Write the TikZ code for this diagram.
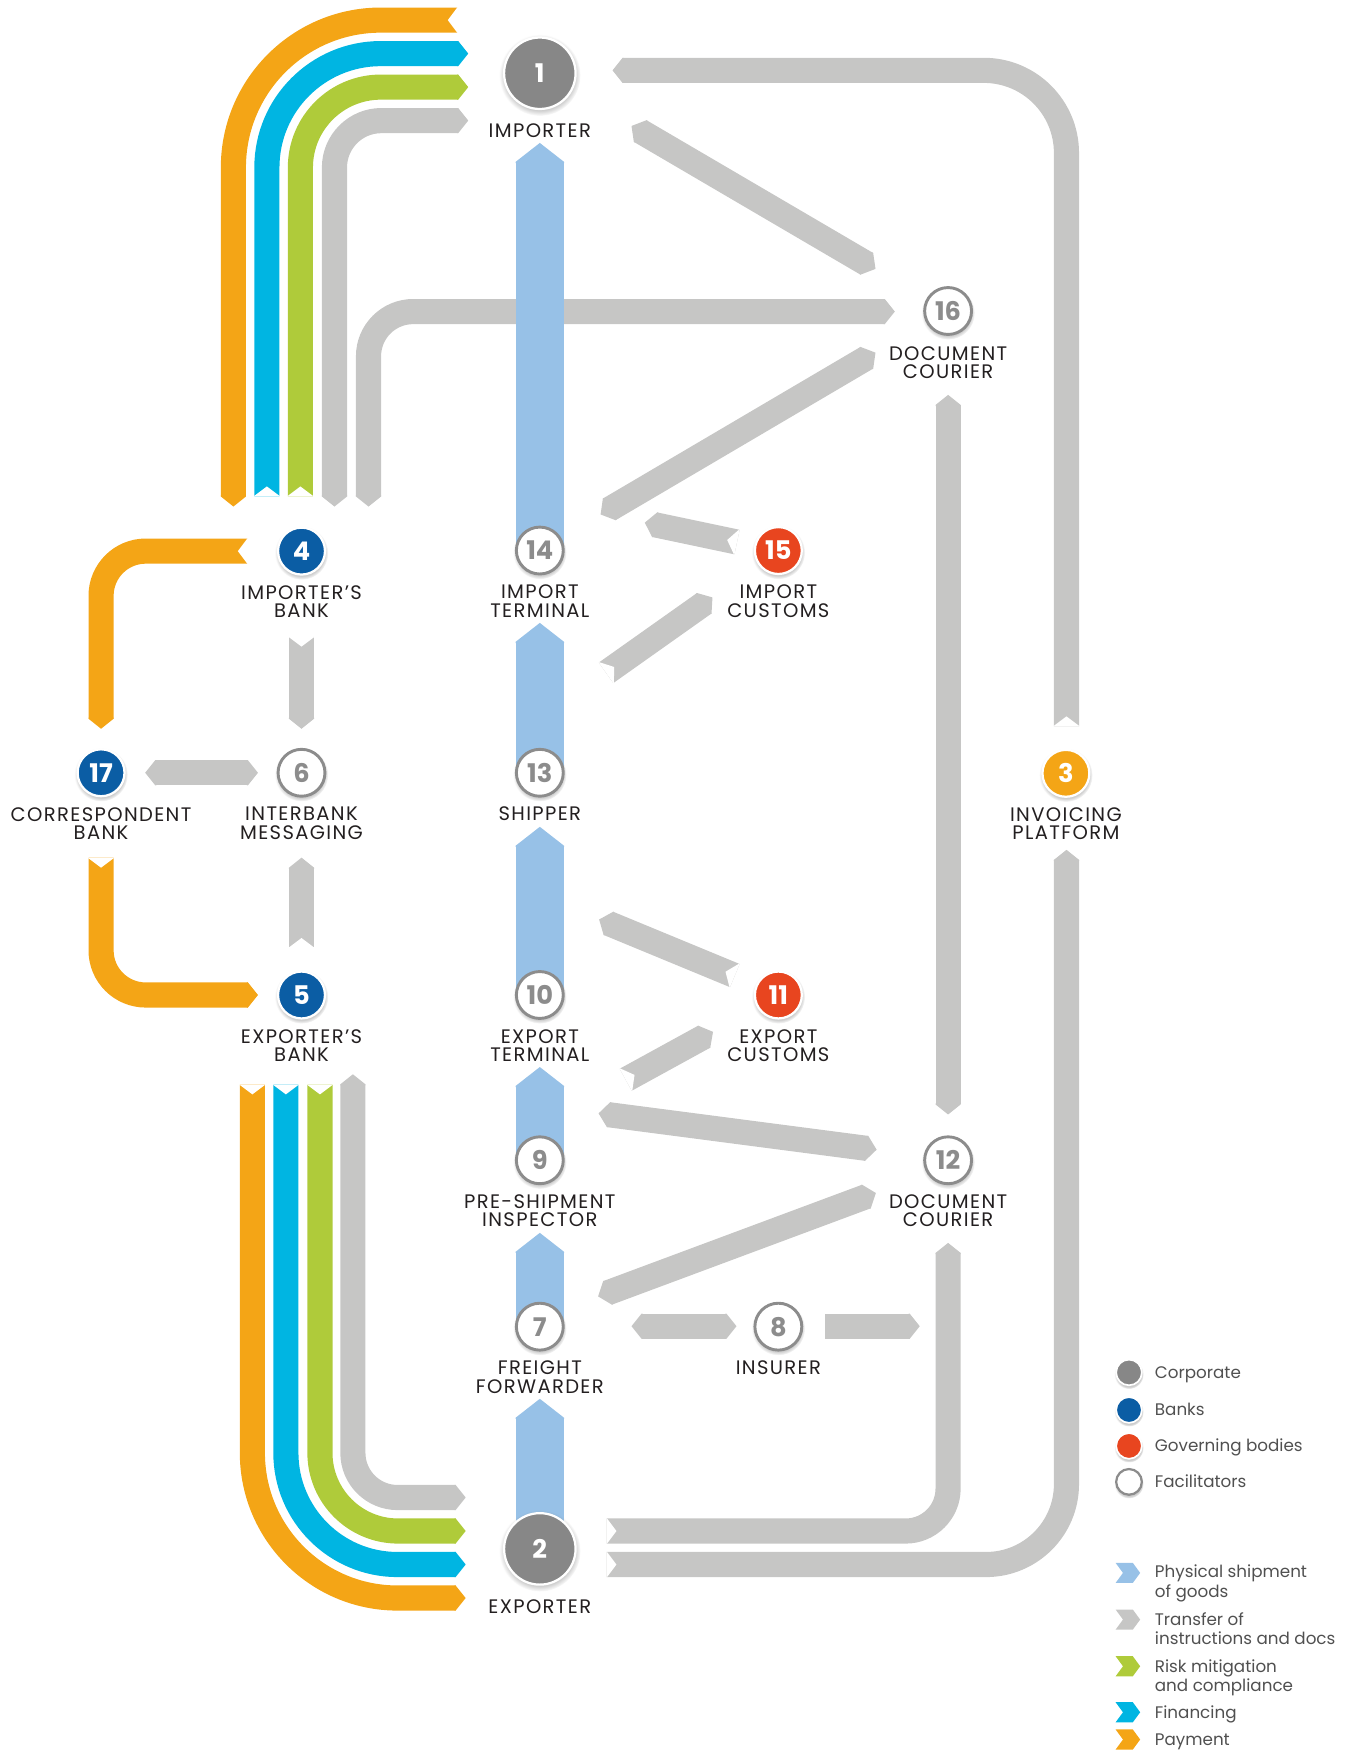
\documentclass[tikz,border=0pt]{standalone}
\usepackage{fontspec}
\setmainfont{Poppins}
\newfontfamily\labfont[LetterSpace=7]{Poppins}
\usetikzlibrary{calc,shadows,fadings,backgrounds}

\definecolor{ribgray}{HTML}{C6C6C5}
\definecolor{shipblue}{HTML}{97C1E7}
\definecolor{payorange}{HTML}{F4A516}
\definecolor{fincyan}{HTML}{00B5E2}
\definecolor{risklime}{HTML}{AFCB3A}
\definecolor{corpgray}{HTML}{878787}
\definecolor{bankblue}{HTML}{0B5DA4}
\definecolor{govred}{HTML}{E8451F}
\definecolor{facgray}{HTML}{8C8C8C}
\definecolor{labtext}{HTML}{231F20}
\definecolor{legtext}{HTML}{505050}

% pointed end of a ribbon: colour, half width, length, inner point, end point
\newcommand\tipat[5]{%
  \coordinate (tipbase) at ($(#5)!#3!(#4)$);
  \coordinate (tipback) at ($(#5)!#3+1pt!(#4)$);
  \fill[#1] ($(tipback)!#2!90:(#5)$) -- ($(tipbase)!#2!90:(#5)$) -- (#5)
    -- ($(tipbase)!#2!-90:(#5)$) -- ($(tipback)!#2!-90:(#5)$) -- cycle;}
% notched end: half width, depth, inner point, end point
\newcommand\notchat[4]{%
  \fill[white] ($(#4)!#1!90:(#3)$) -- ($(#4)!#2!(#3)$) -- ($(#4)!#1!-90:(#3)$) -- cycle;}

\begin{document}
\begin{tikzpicture}[x=1pt, y=-1pt,
  rg/.style={draw=ribgray, line width=22.5pt},
  ro/.style={draw=payorange, line width=22.5pt},
  rc/.style={draw=fincyan, line width=22.5pt},
  rl/.style={draw=risklime, line width=22.5pt},
  rb/.style={draw=shipblue, line width=43.5pt},
  nd/.style={circle, inner sep=0pt, outer sep=0pt, minimum size=42pt, line width=2pt, draw=white,
             font=\bfseries\fontsize{23}{23}\selectfont, text=white,
             circular drop shadow={shadow xshift=0pt, shadow yshift=-1.5pt, shadow scale=1.14, opacity=0.4}},
  corp/.style={nd, fill=corpgray, minimum size=64pt},
  bank/.style={nd, fill=bankblue},
  gov/.style={nd, fill=govred},
  inv/.style={nd, fill=payorange},
  fac/.style={nd, fill=white, draw=facgray, line width=2.6pt, text=facgray},
  lab/.style={font=\labfont\fontsize{17.5}{16.5}\selectfont, align=center, inner sep=0pt, text=labtext},
  leg/.style={font=\fontsize{15}{15}\selectfont, text=legtext, anchor=base west, inner sep=0pt},
  legdot/.style={nd, minimum size=23pt, line width=1.5pt},
]
  \useasboundingbox (0,0) rectangle (1205,1568);

  % actors
  \node[corp] (n1) at (483.4,65.6) {1};
  \node[corp] (n2) at (483.4,1387) {2};
  \node[inv]  (n3) at (954.5,692.5) {3};
  \node[bank] (n4) at (270,493.5) {4};
  \node[bank] (n5) at (270,891) {5};
  \node[fac]  (n6) at (270,692) {6};
  \node[fac]  (n7) at (483.4,1188) {7};
  \node[fac]  (n8) at (697,1188) {8};
  \node[fac]  (n9) at (483.4,1039) {9};
  \node[fac]  (n10) at (483.4,891) {10};
  \node[gov]  (n11) at (697,891) {11};
  \node[fac]  (n12) at (849,1039) {12};
  \node[fac]  (n13) at (483.4,692) {13};
  \node[fac]  (n14) at (483.4,493) {14};
  \node[gov]  (n15) at (697,493) {15};
  \node[fac]  (n16) at (849,278.5) {16};
  \node[bank] (n17) at (90.5,692) {17};

  \node[lab] (l1) at (483.4,117) {IMPORTER};
  \node[lab] (l2) at (483.4,1438.5) {EXPORTER};
  \node[lab] (l3) at (954.5,737.8) {INVOICING\\PLATFORM};
  \node[lab] (l4) at (270,538.8) {IMPORTER’S\\BANK};
  \node[lab] (l5) at (270,936.3) {EXPORTER’S\\BANK};
  \node[lab] (l6) at (270,737.3) {INTERBANK\\MESSAGING};
  \node[lab] (l7) at (483.4,1233.3) {FREIGHT\\FORWARDER};
  \node[lab] (l8) at (697,1225) {INSURER};
  \node[lab] (l9) at (483.4,1084.3) {PRE-SHIPMENT\\INSPECTOR};
  \node[lab] (l10) at (483.4,936.3) {EXPORT\\TERMINAL};
  \node[lab] (l11) at (697,936.3) {EXPORT\\CUSTOMS};
  \node[lab] (l12) at (849,1084.3) {DOCUMENT\\COURIER};
  \node[lab] (l13) at (483.4,729) {SHIPPER};
  \node[lab] (l14) at (483.4,538.3) {IMPORT\\TERMINAL};
  \node[lab] (l15) at (697,538.3) {IMPORT\\CUSTOMS};
  \node[lab] (l16) at (849,325) {DOCUMENT\\COURIER};
  \node[lab] (l17) at (90.5,737.3) {CORRESPONDENT\\BANK};

  % legend
  \node[legdot, fill=corpgray] (d1) at (1011,1229) {};
  \node[legdot, fill=bankblue] (d2) at (1011,1262.6) {};
  \node[legdot, fill=govred]   (d3) at (1011,1294.8) {};
  \node[legdot, fill=white, draw=facgray, line width=2pt] (d4) at (1011,1327) {};
  \node[leg] (k1) at (1034,1234.3) {Corporate};
  \node[leg] (k2) at (1034,1267.9) {Banks};
  \node[leg] (k3) at (1034,1300.1) {Governing bodies};
  \node[leg] (k4) at (1034,1332.3) {Facilitators};
  \node[leg] (k5) at (1034,1412.9) {Physical shipment};
  \node[leg] (k6) at (1034,1430.2) {of goods};
  \node[leg] (k7) at (1034,1455.6) {Transfer of};
  \node[leg] (k8) at (1034,1472.6) {instructions and docs};
  \node[leg] (k9) at (1034,1497.4) {Risk mitigation};
  \node[leg] (k10) at (1034,1514.4) {and compliance};
  \node[leg] (k11) at (1034,1538.5) {Financing};
  \node[leg] (k12) at (1034,1563) {Payment};
  \foreach \c/\y in {shipblue/1408.5, ribgray/1450.3, risklime/1492.1, fincyan/1533.3, payorange/1557.7}
    \fill[\c] (999,\y-9) -- ++(15.4,0) -- ++(6.6,9) -- ++(-6.6,9) -- ++(-15.4,0) -- ++(6.6,-9) -- cycle;

  \begin{scope}[on background layer]
    % free ends of the ribbons
    \coordinate (tlo1) at (209,453.6);   \coordinate (tlo2) at (410,18);
    \coordinate (tlc1) at (239,444.6);   \coordinate (tlc2) at (419.3,48);
    \coordinate (tll1) at (269,444.6);   \coordinate (tll2) at (419.3,78);
    \coordinate (tlg1) at (299.5,453.6); \coordinate (tlg2) at (419.3,108);
    \coordinate (tlh1) at (330,453.6);   \coordinate (tlh2) at (801.3,279);
    \coordinate (blo1) at (226,971);     \coordinate (blo2) at (417,1431);
    \coordinate (blc1) at (256,971);     \coordinate (blc2) at (417,1401);
    \coordinate (bll1) at (286.5,971);   \coordinate (bll2) at (417,1371);
    \coordinate (blg1) at (316,962);     \coordinate (blg2) at (417,1341);
    \coordinate (po1) at (222,493.5);    \coordinate (po2) at (90.5,652.6);
    \coordinate (pq1) at (90.5,768);     \coordinate (pq2) at (231,891);
    \coordinate (ga1) at (270,570);      \coordinate (ga2) at (270,652.6);
    \coordinate (gb1) at (270,849);      \coordinate (gb2) at (270,768);
    \coordinate (gc1) at (130,692);      \coordinate (gc2) at (231,692);
    \coordinate (la1) at (955,650.5);    \coordinate (la2) at (548.5,63);
    \coordinate (lb1) at (543,1401);     \coordinate (lb2) at (955,761);
    \coordinate (lc1) at (543,1371);     \coordinate (lc2) at (849,1113);
    \coordinate (cv1) at (849,353.6);    \coordinate (cv2) at (849,998);
    \coordinate (dg1a) at (565.5,112.8); \coordinate (dg1b) at (784,240.8);
    \coordinate (dg2a) at (784,315.8);   \coordinate (dg2b) at (537.8,460.7);
    \coordinate (dg3a) at (577.4,468);   \coordinate (dg3b) at (660,485.4);
    \coordinate (dg4a) at (542.7,602.5); \coordinate (dg4b) at (638,535);
    \coordinate (dg5a) at (536.5,823.4); \coordinate (dg5b) at (658,873.6);
    \coordinate (dg6a) at (560.3,966.9); \coordinate (dg6b) at (638.5,924);
    \coordinate (dg7a) at (536,997);     \coordinate (dg7b) at (785,1029.5);
    \coordinate (dg8a) at (535.6,1160.9); \coordinate (dg8b) at (784.3,1068.3);
    \coordinate (h8a) at (565.5,1187.6); \coordinate (h8b) at (659.5,1187.6);
    \coordinate (h8c) at (739,1187.6);   \coordinate (h8d) at (823.6,1187.6);
    \coordinate (s7) at (483.4,1252.6);  \coordinate (s9) at (483.4,1104);
    \coordinate (s10) at (483.4,955.5);  \coordinate (s13) at (483.4,740.4);
    \coordinate (s14) at (483.4,557.8);  \coordinate (s1) at (483.4,128);

    % importer bundle
    \draw[ro, rounded corners=132pt, shorten <=9pt] (tlo1) -- (tlo1 |- tlo2) -- (tlo2);
    \tipat{payorange}{11.25pt}{9pt}{tlo1 |- tlo2}{tlo1}
    \notchat{12pt}{9pt}{tlo1 |- tlo2}{tlo2}
    \draw[rc, rounded corners=102pt, shorten >=9pt] (tlc1) -- (tlc1 |- tlc2) -- (tlc2);
    \tipat{fincyan}{11.25pt}{9pt}{tlc1 |- tlc2}{tlc2}
    \notchat{12pt}{9pt}{tlc1 |- tlc2}{tlc1}
    \draw[rl, rounded corners=72pt, shorten >=9pt] (tll1) -- (tll1 |- tll2) -- (tll2);
    \tipat{risklime}{11.25pt}{9pt}{tll1 |- tll2}{tll2}
    \notchat{12pt}{9pt}{tll1 |- tll2}{tll1}
    \draw[rg, rounded corners=42pt, shorten <=9pt, shorten >=9pt] (tlg1) -- (tlg1 |- tlg2) -- (tlg2);
    \tipat{ribgray}{11.25pt}{9pt}{tlg1 |- tlg2}{tlg2}
    \tipat{ribgray}{11.25pt}{9pt}{tlg1 |- tlg2}{tlg1}
    \draw[rg, rounded corners=40pt, shorten <=9pt, shorten >=9pt] (tlh1) -- (tlh1 |- tlh2) -- (tlh2);
    \tipat{ribgray}{11.25pt}{9pt}{tlh1 |- tlh2}{tlh2}
    \tipat{ribgray}{11.25pt}{9pt}{tlh1 |- tlh2}{tlh1}

    % exporter bundle
    \draw[ro, rounded corners=130pt, shorten >=9pt] (blo1) -- (blo1 |- blo2) -- (blo2);
    \tipat{payorange}{11.25pt}{9pt}{blo1 |- blo2}{blo2}
    \notchat{12pt}{9pt}{blo1 |- blo2}{blo1}
    \draw[rc, rounded corners=100pt, shorten >=9pt] (blc1) -- (blc1 |- blc2) -- (blc2);
    \tipat{fincyan}{11.25pt}{9pt}{blc1 |- blc2}{blc2}
    \notchat{12pt}{9pt}{blc1 |- blc2}{blc1}
    \draw[rl, rounded corners=70pt, shorten >=9pt] (bll1) -- (bll1 |- bll2) -- (bll2);
    \tipat{risklime}{11.25pt}{9pt}{bll1 |- bll2}{bll2}
    \notchat{12pt}{9pt}{bll1 |- bll2}{bll1}
    \draw[rg, rounded corners=40pt, shorten <=9pt, shorten >=9pt] (blg1) -- (blg1 |- blg2) -- (blg2);
    \tipat{ribgray}{11.25pt}{9pt}{blg1 |- blg2}{blg2}
    \tipat{ribgray}{11.25pt}{9pt}{blg1 |- blg2}{blg1}

    % banks
    \draw[ro, rounded corners=40pt, shorten >=9pt] (po1) -- (po2 |- po1) -- (po2);
    \tipat{payorange}{11.25pt}{9pt}{po2 |- po1}{po2}
    \notchat{12pt}{9pt}{po2 |- po1}{po1}
    \draw[ro, rounded corners=40pt, shorten >=9pt] (pq1) -- (pq1 |- pq2) -- (pq2);
    \tipat{payorange}{11.25pt}{9pt}{pq1 |- pq2}{pq2}
    \notchat{12pt}{9pt}{pq1 |- pq2}{pq1}
    \draw[rg, shorten >=9pt] (ga1) -- (ga2);
    \tipat{ribgray}{11.25pt}{9pt}{ga1}{ga2}
    \notchat{12pt}{9pt}{ga2}{ga1}
    \draw[rg, shorten >=9pt] (gb1) -- (gb2);
    \tipat{ribgray}{11.25pt}{9pt}{gb1}{gb2}
    \notchat{12pt}{9pt}{gb2}{gb1}
    \draw[rg, shorten <=9pt, shorten >=9pt] (gc1) -- (gc2);
    \tipat{ribgray}{11.25pt}{9pt}{gc1}{gc2}
    \tipat{ribgray}{11.25pt}{9pt}{gc2}{gc1}

    % shipment of goods
    \foreach \a/\b in {n2/s7, n7/s9, n9/s10, n10/s13, n13/s14, n14/s1} {
      \draw[rb, shorten >=17pt] (\a.center) -- (\b);
      \tipat{shipblue}{21.75pt}{17pt}{\a.center}{\b}
    }

    % outer loops
    \draw[rg, rounded corners=74pt, shorten >=9pt] (la1) -- (la1 |- la2) -- (la2);
    \tipat{ribgray}{11.25pt}{9pt}{la1 |- la2}{la2}
    \notchat{12pt}{9pt}{la1 |- la2}{la1}
    \draw[rg, rounded corners=72pt, shorten >=9pt] (lb1) -- (lb2 |- lb1) -- (lb2);
    \tipat{ribgray}{11.25pt}{9pt}{lb2 |- lb1}{lb2}
    \notchat{12pt}{9pt}{lb2 |- lb1}{lb1}
    \draw[rg, rounded corners=38pt, shorten >=9pt] (lc1) -- (lc2 |- lc1) -- (lc2);
    \tipat{ribgray}{11.25pt}{9pt}{lc2 |- lc1}{lc2}
    \notchat{12pt}{9pt}{lc2 |- lc1}{lc1}

    % two-way documents
    \foreach \a/\b in {cv1/cv2, dg1a/dg1b, dg2a/dg2b, dg7a/dg7b, dg8a/dg8b, h8a/h8b} {
      \draw[rg, shorten <=9pt, shorten >=9pt] (\a) -- (\b);
      \tipat{ribgray}{11.25pt}{9pt}{\a}{\b}
      \tipat{ribgray}{11.25pt}{9pt}{\b}{\a}
    }
    % one-way documents, notch -> tip
    \foreach \a/\b in {dg3b/dg3a, dg4a/dg4b, dg5b/dg5a, dg6a/dg6b} {
      \draw[rg, shorten >=9pt] (\a) -- (\b);
      \tipat{ribgray}{11.25pt}{9pt}{\a}{\b}
      \notchat{12pt}{9pt}{\b}{\a}
    }
    \draw[rg, shorten >=9pt] (h8c) -- (h8d);
    \tipat{ribgray}{11.25pt}{9pt}{h8c}{h8d}
  \end{scope}
\end{tikzpicture}
\end{document}
